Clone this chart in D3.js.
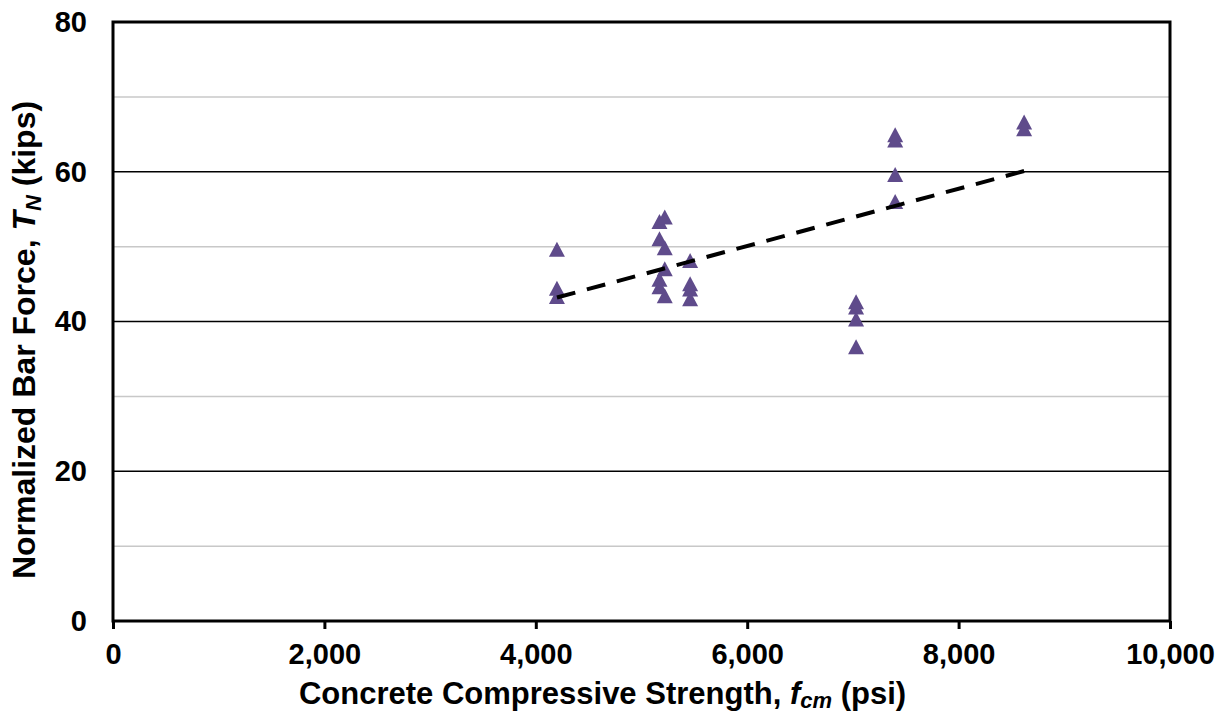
<!DOCTYPE html>
<html><head><meta charset="utf-8">
<script src="https://cdn.jsdelivr.net/npm/d3@7"></script>
<style>body{margin:0;background:#fff}svg{display:block}text{font-family:"Liberation Sans",Arial,sans-serif;font-weight:bold}</style>
</head><body>
<svg id="c" width="1225" height="712"></svg>
<script>
const strengthX = [4200,4200,4200, 5170,5220,5170,5220,5220,5170,5170,5220, 5460,5460,5460,5460, 7030,7030,7030,7030, 7400,7400,7400,7400, 8620,8620];
const barForceY = [49.6,44.4,43.3, 53.3,53.9,51.0,49.8,47.0,45.6,44.6,43.4, 48.1,45.0,44.3,43.0, 42.6,41.9,40.3,36.6, 64.9,64.2,59.6,56.0, 66.6,65.7];
const trendX = [4200, 8620];
const trendY = [43.2, 60.1];
const xTicks = [0,2000,4000,6000,8000,10000];
const yMajor = [0,20,40,60,80];
const yMinor = [10,30,50,70];

const svg = d3.select("#c");
const L=113,R=1170,T=22,B=621;
const x = d3.scaleLinear().domain([0,10000]).range([L,R]);
const y = d3.scaleLinear().domain([0,80]).range([B,T]);

// gridlines
svg.append("g").selectAll("line").data(yMinor).join("line")
  .attr("x1",L).attr("x2",R).attr("y1",d=>y(d)).attr("y2",d=>y(d))
  .attr("stroke","#c8c8c8").attr("stroke-width",1.5);
svg.append("g").selectAll("line").data(yMajor.filter(d=>d>0&&d<80)).join("line")
  .attr("x1",L).attr("x2",R).attr("y1",d=>y(d)).attr("y2",d=>y(d))
  .attr("stroke","#000").attr("stroke-width",1.3);

// x axis ticks & labels
const xa = d3.axisBottom(x).tickValues(xTicks).tickSize(8).tickPadding(14).tickFormat(d3.format(","));
const gx = svg.append("g").attr("transform",`translate(0,${B})`).call(xa);
gx.select(".domain").remove();
gx.selectAll(".tick line").attr("stroke","#000").attr("stroke-width",3);
gx.selectAll(".tick text").attr("font-size",29).attr("fill","#000").attr("font-family","Liberation Sans, Arial, sans-serif").attr("font-weight","bold");

// y axis labels
const ya = d3.axisLeft(y).tickValues(yMajor).tickSize(0).tickPadding(26);
const gy = svg.append("g").attr("transform",`translate(${L},0)`).call(ya);
gy.select(".domain").remove();
gy.selectAll(".tick text").attr("font-size",29).attr("fill","#000").attr("font-family","Liberation Sans, Arial, sans-serif").attr("font-weight","bold");

// frame
svg.append("rect").attr("x",L).attr("y",T).attr("width",R-L).attr("height",B-T)
  .attr("fill","none").attr("stroke","#000").attr("stroke-width",3);

// points
const tri = "M0,-7.8L8,7.2L-8,7.2Z";
svg.append("g").selectAll("path").data(strengthX.map((v,i)=>[v,barForceY[i]])).join("path")
  .attr("d",tri).attr("transform",d=>`translate(${x(d[0])},${y(d[1])})`)
  .attr("fill","#5f4b8b");

// trend line
svg.append("line").attr("x1",x(trendX[0])).attr("y1",y(trendY[0]))
  .attr("x2",x(trendX[1])).attr("y2",y(trendY[1]))
  .attr("stroke","#000").attr("stroke-width",4).attr("stroke-dasharray","19,12");

// axis titles
const xt = svg.append("text").attr("x",(L+R)/2-39).attr("y",704).attr("text-anchor","middle").attr("font-size",31);
xt.append("tspan").text("Concrete Compressive Strength, ");
xt.append("tspan").attr("font-style","italic").text("f");
xt.append("tspan").attr("font-style","italic").attr("font-size",22).attr("dy",4).text("cm");
xt.append("tspan").attr("dy",-4).text(" (psi)");

const yt = svg.append("text").attr("transform",`translate(35,340) rotate(-90)`).attr("text-anchor","middle").attr("font-size",32);
yt.append("tspan").text("Normalized Bar Force, ");
yt.append("tspan").attr("font-style","italic").text("T");
yt.append("tspan").attr("font-style","italic").attr("font-size",22).attr("dy",6).text("N");
yt.append("tspan").attr("dy",-6).text(" (kips)");
</script>
</body></html>
